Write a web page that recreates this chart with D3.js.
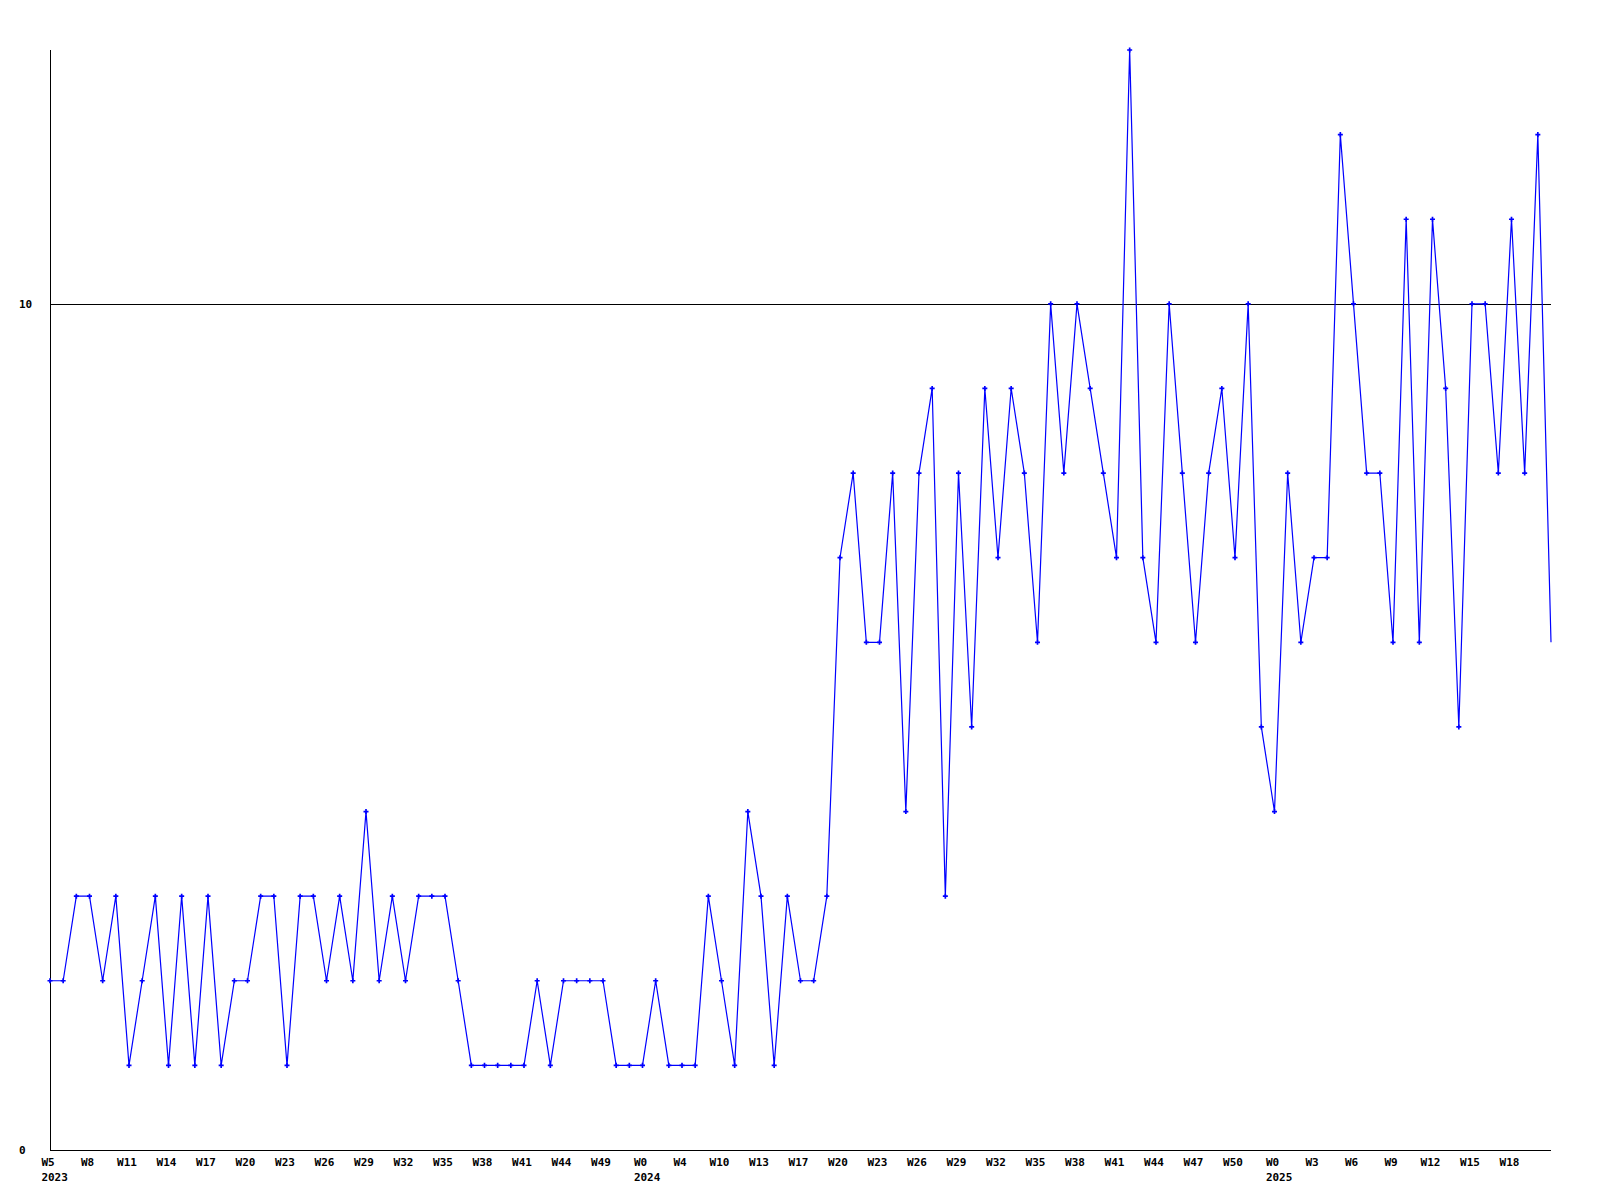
<!DOCTYPE html>
<html>
<head>
<meta charset="utf-8">
<script src="https://cdn.jsdelivr.net/npm/d3@7"></script>
<style>
  html, body { margin: 0; padding: 0; background: #fff; }
  svg { display: block; }
  text { font-family: "DejaVu Sans Mono", "Liberation Mono", monospace; font-weight: bold; font-size: 11px; fill: #000; }
</style>
</head>
<body>
<svg id="chart" width="1600" height="1200"></svg>
<script>
// Weekly values (115 weeks)
const values = [
  2,2,3,3,2,3,1,2,3,1,
  3,1,3,1,2,2,3,3,1,3,
  3,2,3,2,4,2,3,2,3,3,
  3,2,1,1,1,1,1,2,1,2,
  2,2,2,1,1,1,2,1,1,1,
  3,2,1,4,3,1,3,2,2,3,
  7,8,6,6,8,4,8,9,3,8,
  5,9,7,9,8,6,10,8,10,9,
  8,7,13,7,6,10,8,6,8,9,
  7,10,5,4,8,6,7,7,12,10,
  8,8,6,11,6,11,9,5,10,10,
  8,11,8,12,6
];
// x tick labels: one every 3 points
const tickLabels = [
  "W5","W8","W11","W14","W17","W20","W23","W26","W29","W32","W35","W38","W41",
  "W44","W49","W0","W4","W10","W13","W17","W20","W23","W26","W29","W32","W35",
  "W38","W41","W44","W47","W50","W0","W3","W6","W9","W12","W15","W18"
];
const tickStep = 3;
// year labels placed under the tick at the given tick index
const yearLabels = ["2023", "2024", "2025"];
const yearTickIndex = [0, 15, 31];
const yTicks = [0, 10];
const yMax = 13;

const svg = d3.select("#chart");
const mLeft = 50, mRight = 1551, mTop = 50, mBottom = 1150;

const x = d3.scaleLinear().domain([0, values.length - 1]).range([mLeft, mRight]);
const y = d3.scaleLinear().domain([0, yMax]).range([mBottom, mTop]);

// grid line at 10
svg.append("g").selectAll("line").data(yTicks.filter(d => d > 0)).join("line")
  .attr("x1", mLeft).attr("x2", mRight)
  .attr("y1", d => Math.round(y(d)) + 0.5).attr("y2", d => Math.round(y(d)) + 0.5)
  .attr("stroke", "#000").attr("stroke-width", 1);

// y tick labels
svg.append("g").selectAll("text").data(yTicks).join("text")
  .attr("x", 19).attr("y", d => y(d)).attr("dy", "0.35em")
  .text(d => d);

// axes lines
svg.append("line").attr("x1", mLeft + 0.5).attr("x2", mLeft + 0.5).attr("y1", mTop).attr("y2", mBottom)
  .attr("stroke", "#000");
svg.append("line").attr("x1", mLeft).attr("x2", mRight).attr("y1", mBottom + 0.5).attr("y2", mBottom + 0.5)
  .attr("stroke", "#000");

// x labels
const xl = svg.append("g");
const lbls = xl.selectAll("text.wk").data(tickLabels).join("text")
  .attr("class", "wk")
  .attr("x", (d, i) => x(i * tickStep) - 2)
  .attr("y", 1162).attr("dy", "0.35em")
  .attr("text-anchor", "middle")
  .text(d => d);
const nodes = lbls.nodes();
xl.selectAll("text.yr").data(yearLabels).join("text")
  .attr("class", "yr")
  .attr("x", (d, k) => {
    const ti = yearTickIndex[k];
    const w = nodes[ti].getComputedTextLength();
    return x(ti * tickStep) - 2 - w / 2;
  })
  .attr("y", 1177).attr("dy", "0.35em")
  .text(d => d);

// line
const line = d3.line().x((d, i) => x(i)).y(d => y(d));
svg.append("path").datum(values)
  .attr("d", line)
  .attr("fill", "none").attr("stroke", "#0000ff").attr("stroke-width", 1.2);

// markers (all but the last point)
const sym = d3.symbol().type(d3.symbolCross).size(14);
svg.append("g").selectAll("path").data(values.slice(0, -1)).join("path")
  .attr("transform", (d, i) => `translate(${x(i)},${y(d)})`)
  .attr("d", sym)
  .attr("fill", "#0000ff");
</script>
</body>
</html>
